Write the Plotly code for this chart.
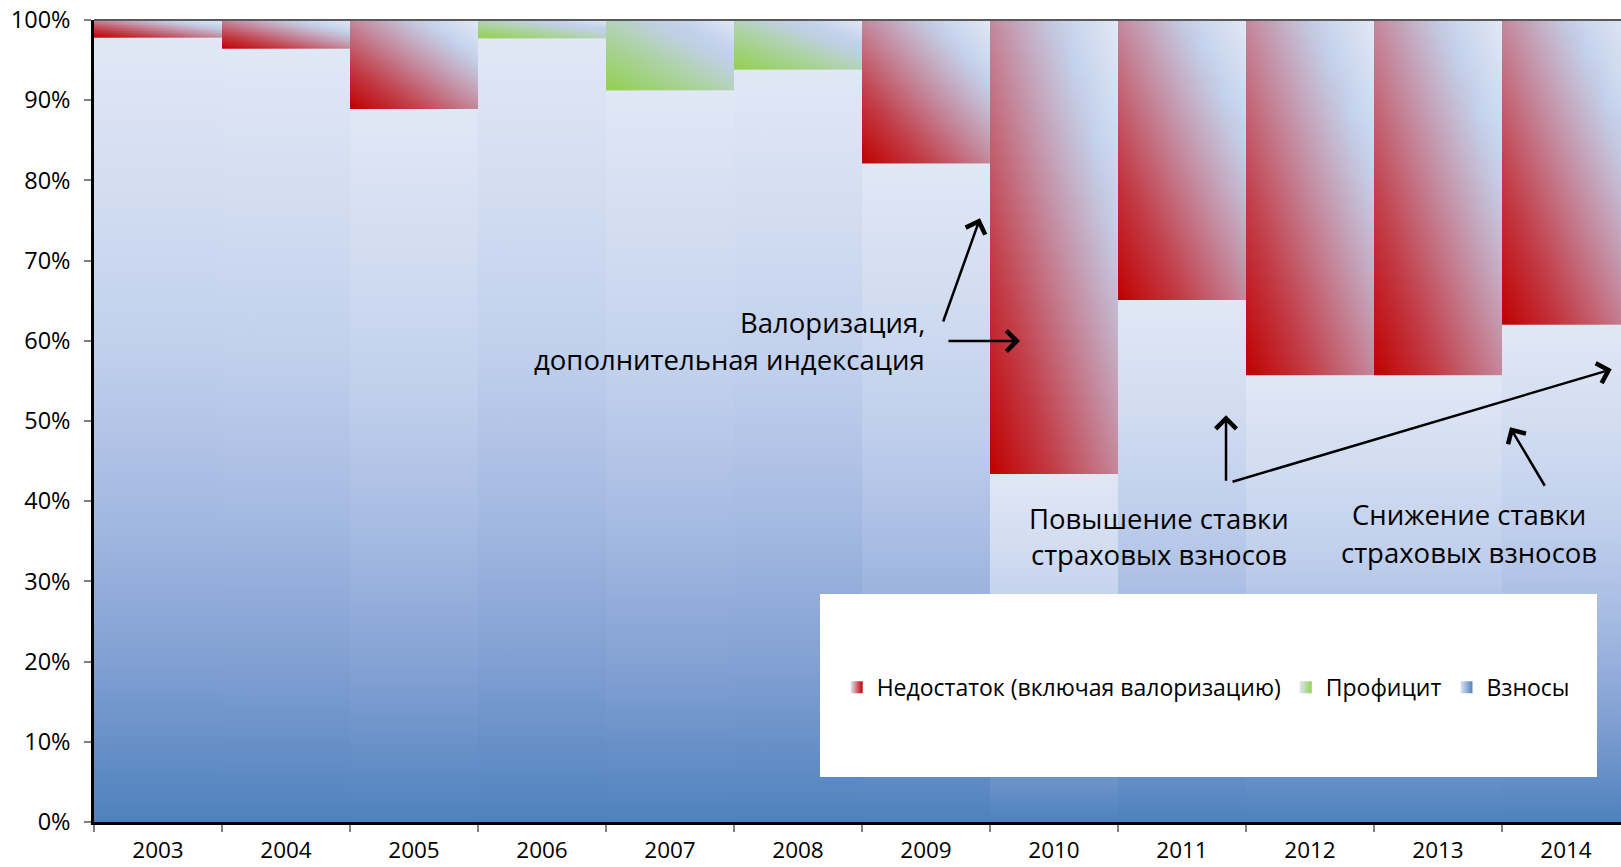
import math
import plotly.graph_objects as go

# ---------------- data ----------------
years = ['2003', '2004', '2005', '2006', '2007', '2008',
         '2009', '2010', '2011', '2012', '2013', '2014']
contrib = [0.978, 0.964, 0.889, 0.977, 0.912, 0.938,
           0.821, 0.434, 0.651, 0.557, 0.557, 0.620]          # Взносы
deficit = [0.022, 0.036, 0.111, 0.0, 0.0, 0.0,
           0.179, 0.566, 0.349, 0.443, 0.443, 0.380]          # Недостаток
surplus = [0.0, 0.0, 0.0, 0.023, 0.088, 0.062,
           0.0, 0.0, 0.0, 0.0, 0.0, 0.0]                      # Профицит

name_def = 'Недостаток (включая валоризацию)'
name_sur = 'Профицит'
name_con = 'Взносы'

# ---------------- styles ----------------
FONT = 'Open Sans'
BLUE_SCALE = [(0.0, (79, 129, 189)), (0.2, (128, 159, 210)), (0.4, (165, 186, 226)),
              (0.6, (192, 207, 236)), (0.8, (210, 221, 241)), (1.0, (225, 231, 245))]
RED_SCALE = [(0.0, (192, 0, 0)), (0.25, (194, 60, 70)), (0.5, (196, 135, 155)),
             (0.65, (196, 178, 200)), (0.78, (195, 210, 236)), (1.0, (226, 232, 245))]
GREEN_SCALE = [(0.0, (146, 208, 80)), (0.3, (165, 210, 140)), (0.5, (180, 210, 185)),
               (0.65, (190, 208, 225)), (0.78, (195, 210, 236)), (1.0, (226, 232, 245))]


def interp(scale, t):
    t = min(max(t, 0.0), 1.0)
    for (p0, c0), (p1, c1) in zip(scale[:-1], scale[1:]):
        if t <= p1:
            f = 0 if p1 == p0 else (t - p0) / (p1 - p0)
            return tuple(a + (b - a) * f for a, b in zip(c0, c1))
    return scale[-1][1]


def rgb(c):
    return 'rgb(%d,%d,%d)' % tuple(int(round(v)) for v in c)


W, H = 1621, 867
ML, MT, MB = 94, 20, 45
plot_w = W - ML
plot_h = H - MT - MB
bar_px = 128.0
x_max = -0.5 + plot_w / bar_px

fig = go.Figure()

# contributions: vertical gradient per bar
for i, yr in enumerate(years):
    x0, x1 = i - 0.5, i + 0.5
    top = contrib[i]
    fig.add_trace(go.Scatter(
        x=[x0, x1, x1, x0, x0], y=[0, 0, top, top, 0],
        fill='toself', mode='lines', line=dict(width=0),
        fillgradient=dict(type='vertical',
                          colorscale=[[p, rgb(c)] for p, c in BLUE_SCALE],
                          start=0, stop=top),
        showlegend=False, hoverinfo='skip'))


def add_diag(i, y0, h, scale):
    """diagonal gradient (bottom-left -> top-right) built from thin strips"""
    x0, x1 = i - 0.5, i + 0.5
    n = max(8, int(math.ceil(h * plot_h / 2.5)))
    for k in range(n):
        ya = y0 + h * k / n
        yb = y0 + h * (k + 1) / n
        if k < n - 1:
            yb += h / n * 0.6
        v = (k + 0.5) / n
        cs = [[j / 6, rgb(interp(scale, v / 2 + 0.5 * j / 6))] for j in range(7)]
        fig.add_trace(go.Scatter(
            x=[x0, x1, x1, x0, x0], y=[ya, ya, yb, yb, ya],
            fill='toself', mode='lines', line=dict(width=0),
            fillgradient=dict(type='horizontal', colorscale=cs, start=x0, stop=x1),
            showlegend=False, hoverinfo='skip'))


for i in range(len(years)):
    if deficit[i] > 0:
        add_diag(i, contrib[i], deficit[i], RED_SCALE)
    if surplus[i] > 0:
        add_diag(i, contrib[i], surplus[i], GREEN_SCALE)

# legend entries (square gradient icons)
for nm, dark, rank in [(name_def, '#c00000', 1), (name_sur, '#92d050', 2), (name_con, '#4f81bd', 3)]:
    fig.add_trace(go.Scatter(
        x=[None], y=[None], mode='markers', name=nm, legendrank=rank,
        marker=dict(symbol='square', size=12, color='#dfe6f5',
                    gradient=dict(type='horizontal', color=dark),
                    line=dict(width=0)),
        hoverinfo='skip'))

# ---------------- layout ----------------
fig.update_layout(
    width=W, height=H,
    margin=dict(l=ML, r=0, t=MT, b=MB, autoexpand=False),
    paper_bgcolor='white', plot_bgcolor='white',
    font=dict(family=FONT, color='black'),
    showlegend=True,
    legend=dict(orientation='h', x=0.728, xanchor='center', y=0.168, yanchor='middle',
                bgcolor='rgba(0,0,0,0)', font=dict(size=23, family=FONT),
                traceorder='normal', itemwidth=30),
    xaxis=dict(range=[-0.5, x_max], tickmode='array', automargin=False,
               tickvals=list(range(len(years))), ticktext=years,
               ticks='', showgrid=False, zeroline=False,
               showline=True, linecolor='black', linewidth=2.5,
               tickfont=dict(size=22.5, family=FONT), ticklabelstandoff=6,
               minor=dict(tickmode='array',
                          tickvals=[k - 0.5 for k in range(len(years) + 1)],
                          ticks='outside', ticklen=7, tickwidth=1.5,
                          tickcolor='#808080', showgrid=False)),
    yaxis=dict(range=[0, 1], tickmode='array', automargin=False,
               tickvals=[k / 10 for k in range(11)], tickformat='.0%',
               ticks='outside', ticklen=7, tickwidth=1.5, tickcolor='#808080',
               showgrid=False, zeroline=False,
               showline=True, linecolor='black', linewidth=2.5,
               tickfont=dict(size=23.5, family=FONT), ticklabelstandoff=9),
)

# frame line on top, white legend box
fig.add_shape(type='line', xref='paper', yref='paper', x0=0, x1=1, y0=1, y1=1,
              line=dict(color='#595959', width=2), layer='above')
fig.add_shape(type='rect', xref='paper', yref='paper',
              x0=(820 - ML) / plot_w, x1=(1597 - ML) / plot_w,
              y0=(822 - 777) / plot_h, y1=(822 - 594) / plot_h,
              fillcolor='white', line=dict(width=0), layer='above')

# ---------------- annotations ----------------
ANN_FONT = dict(family=FONT, size=27.5, color='black')
texts = [
    ('Валоризация,', 6.008, 0.623, 'right'),
    ('дополнительная индексация', 6.008, 0.577, 'right'),
    ('Повышение ставки', 7.82, 0.379, 'center'),
    ('страховых взносов', 7.82, 0.333, 'center'),
    ('Снижение ставки', 10.24, 0.383, 'center'),
    ('страховых взносов', 10.24, 0.336, 'center'),
]
for t, x, y, xa in texts:
    fig.add_annotation(text=t, x=x, y=y, xref='x', yref='y', xanchor=xa,
                       yanchor='middle', showarrow=False, font=ANN_FONT)

arrows = [  # (head x, head y, tail x, tail y)
    (6.422, 0.7527, 6.130, 0.6222),
    (6.734, 0.5998, 6.164, 0.5998),
    (8.344, 0.5072, 8.344, 0.4237),
    (11.357, 0.5645, 8.383, 0.4237),
    (10.563, 0.4922, 10.841, 0.4174),
]
for hx, hy, tx, ty in arrows:
    fig.add_annotation(text='', x=hx, y=hy, ax=tx, ay=ty, xref='x', yref='y',
                       axref='x', ayref='y', showarrow=True, arrowhead=4,
                       arrowsize=1.6, arrowwidth=2.5, arrowcolor='black', standoff=0)

fig.write_html('out.html',
               config={'displayModeBar': False},
               post_script="document.body.style.margin='0';"
                           "document.body.style.overflow='hidden';")
